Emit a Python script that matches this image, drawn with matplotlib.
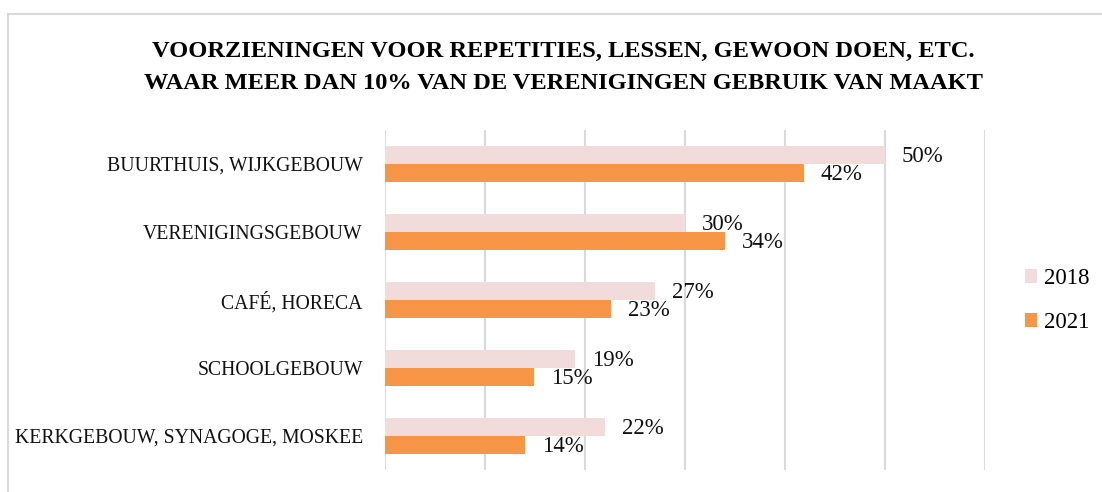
import matplotlib
matplotlib.use("Agg")
import matplotlib.pyplot as plt
from matplotlib.patches import Rectangle, Patch
import numpy as np

categories = ["BUURTHUIS, WIJKGEBOUW", "VERENIGINGSGEBOUW", "CAFÉ, HORECA",
              "SCHOOLGEBOUW", "KERKGEBOUW, SYNAGOGE, MOSKEE"]
values_2018 = [50, 30, 27, 19, 22]
values_2021 = [41.9, 34, 22.6, 14.9, 14]
series_names = ["2018", "2021"]
x_ticks = [0, 10, 20, 30, 40, 50, 60]
title = ("VOORZIENINGEN VOOR REPETITIES, LESSEN, GEWOON DOEN, ETC.\n"
         "WAAR MEER DAN 10% VAN DE VERENIGINGEN GEBRUIK VAN MAAKT")

FONT = "Liberation Serif"
plt.rcParams["font.family"] = [FONT, "DejaVu Serif"]
c2018 = "#F2DCDB"
c2021 = "#F79646"
W, H = 1102, 492
fig = plt.figure(figsize=(W / 100, H / 100), dpi=100)
fig.patches.append(Rectangle((8 / W, -1), 2, 2 - 14 / H, transform=fig.transFigure,
                             fill=False, edgecolor="#D9D9D9", linewidth=1.5))

ax = fig.add_axes([385 / W, 22 / H, 600 / W, 340 / H])
n = len(categories)
y = np.arange(n)
bh = 18 / 68
ax.barh(y - bh / 2, values_2018, height=bh, color=c2018, zorder=2)
ax.barh(y + bh / 2, values_2021, height=bh, color=c2021, zorder=2)
ax.set_ylim(n - 0.5, -0.5)
ax.set_xlim(0, 60)
ax.set_xticks(x_ticks)
ax.set_xticklabels([])
ax.tick_params(axis="x", length=0)
ax.tick_params(axis="y", length=0, pad=16)
ax.set_yticks(y)
ax.set_yticklabels(categories, fontsize=14.2, color="#111111")
ax.grid(axis="x", color="#D9D9D9", linewidth=1.5, zorder=0)
for s in ax.spines.values():
    s.set_visible(False)

for i in range(n):
    ax.annotate(f"{values_2018[i]:.0f}%", (values_2018[i], y[i] - bh / 2),
                xytext=(12.2, -1.2), textcoords="offset points", va="center", ha="left",
                fontsize=16.5, color="#111111")
    ax.annotate(f"{values_2021[i]:.0f}%", (values_2021[i], y[i] + bh / 2),
                xytext=(12.2, -1.2), textcoords="offset points", va="center", ha="left",
                fontsize=16.5, color="#111111")

fig.text(563 / W, 1 - 67.5 / H, title, ha="center", va="center", fontsize=17.6,
         fontweight="bold", linespacing=1.65, color="#000000")

handles = [Patch(facecolor=c2018, edgecolor="none"), Patch(facecolor=c2021, edgecolor="none")]
fig.legend(handles, series_names, loc="center left", bbox_to_anchor=(1025 / W, 1 - 300.5 / H),
           frameon=False, fontsize=16.5, handlelength=0.52, handleheight=0.52,
           handletextpad=0.3, labelspacing=1.0, borderpad=0, borderaxespad=0)

fig.savefig("out.png", dpi=100)
